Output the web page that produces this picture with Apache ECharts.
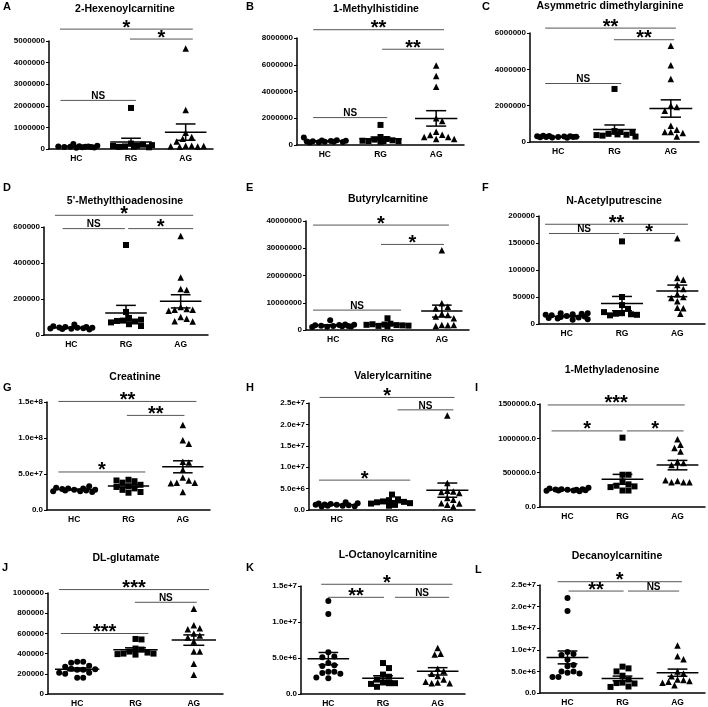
<!DOCTYPE html>
<html><head><meta charset="utf-8">
<script src="https://cdn.jsdelivr.net/npm/echarts@6/dist/echarts.min.js"></script>
<style>html,body{margin:0;padding:0;background:#fff}#c{width:708px;height:707px}</style>
</head><body><div id="c"></div>
<script>
// ---------- DATA ----------
const groupNames = ['HC', 'RG', 'AG'];
const panelLetters = ['A','B','C','D','E','F','G','H','I','J','K','L'];
const panelTitles = ['2-Hexenoylcarnitine','1-Methylhistidine','Asymmetric dimethylarginine',
  "5'-Methylthioadenosine",'Butyrylcarnitine','N-Acetylputrescine',
  'Creatinine','Valerylcarnitine','1-Methyladenosine',
  'DL-glutamate','L-Octanoylcarnitine','Decanoylcarnitine'];
const yMax  = [5e6, 8e6, 6e6, 6e5, 4e7, 2e5, 1.5e8, 2.5e7, 1.5e6, 1e6, 1.5e7, 2.5e7];
const yStep = [1e6, 2e6, 2e6, 2e5, 1e7, 5e4, 5e7, 5e6, 5e5, 2e5, 5e6, 5e6];
const yFormat = ['int','int','int','int','int','int','exp','exp','fixed','int','exp','exp'];

const hexenoylHC = [60000, 80000, 100000, 120000, 90000, 70000, 110000, 150000, 130000, 100000, 90000, 230000];
const hexenoylRG = [1900000, 250000, 150000, 120000, 200000, 100000, 80000, 140000, 180000, 110000];
const hexenoylAG = [4650000, 1800000, 750000, 550000, 480000, 350000, 150000, 150000, 120000, 130000, 140000, 100000];
const hexenoylSig = [[0.70, 3.13, 5.55e6, '*'], [1.98, 3.13, 5.09e6, '*'], [0.71, 2.09, 2.25e6, 'NS']];

const methylhistidineHC = [250000, 300000, 200000, 350000, 280000, 220000, 260000, 310000, 240000, 180000, 330000, 560000];
const methylhistidineRG = [1500000, 600000, 450000, 400000, 350000, 300000, 280000, 320000, 250000, 300000];
const methylhistidineAG = [5950000, 5150000, 4350000, 2000000, 1800000, 1000000, 770000, 750000, 600000, 600000, 450000, 450000];
const methylhistidineSig = [[0.79, 3.14, 8.62e6, '**'], [2.03, 3.14, 7.16e6, '**'], [0.79, 2.12, 2.05e6, 'NS']];

const admaHC = [280000, 300000, 250000, 320000, 270000, 290000, 260000, 310000, 240000, 330000, 280000, 350000];
const admaRG = [2920000, 600000, 550000, 450000, 400000, 350000, 500000, 380000, 420000, 300000];
const admaAG = [5300000, 4220000, 3470000, 2000000, 1930000, 1720000, 900000, 680000, 550000, 550000, 500000, 300000];
const admaSig = [[0.77, 3.09, 6.27e6, '**'], [1.99, 3.06, 5.63e6, '**'], [0.77, 2.12, 3.22e6, 'NS']];

const mtaHC = [35000, 40000, 45000, 38000, 42000, 30000, 48000, 36000, 40000, 33000, 45000, 58000];
const mtaRG = [500000, 128000, 95000, 80000, 75000, 78000, 60000, 50000, 85000, 70000];
const mtaAG = [550000, 320000, 255000, 250000, 155000, 145000, 140000, 140000, 135000, 100000, 90000, 76000, 75000];
const mtaSig = [[0.70, 3.23, 6.65e5, '*'], [0.84, 1.98, 5.91e5, 'NS'], [2.04, 3.23, 5.91e5, '*']];

const butyrylHC = [1500000, 1800000, 1200000, 2000000, 1600000, 1300000, 1700000, 1400000, 1900000, 1100000, 1500000, 3600000];
const butyrylRG = [4300000, 2300000, 2000000, 1800000, 1500000, 1700000, 2100000, 1600000, 1900000, 1400000];
const butyrylAG = [29300000, 9800000, 8500000, 8000000, 6000000, 5500000, 5000000, 4300000, 1800000, 1700000, 1500000, 1800000];
const butyrylSig = [[0.63, 3.13, 3.85e7, '*'], [1.88, 3.04, 3.14e7, '*'], [0.63, 2.25, 0.73e7, 'NS']];

const acetylputrescineHC = [15000, 18000, 20000, 12000, 10000, 16000, 14000, 17000, 8000, 13000, 19000, 11000, 20000, 9000];
const acetylputrescineRG = [153000, 50000, 35000, 28000, 20000, 19000, 18000, 16000, 17000, 22000];
const acetylputrescineAG = [159000, 85000, 82000, 72000, 65000, 55000, 50000, 48000, 42000, 30000, 29000, 19000];
const acetylputrescineSig = [[0.61, 3.19, 1.847e5, '**'], [0.68, 1.95, 1.676e5, 'NS'], [2.02, 2.96, 1.676e5, '*']];

const creatinineHC = [28e6, 26e6, 30e6, 27e6, 29e6, 25e6, 31e6, 26e6, 28e6, 27e6, 30e6, 33e6];
const creatinineRG = [42e6, 40e6, 38e6, 35e6, 33e6, 32e6, 30e6, 28e6, 25e6, 24e6, 41e6];
const creatinineAG = [118e6, 97e6, 92e6, 67e6, 66e6, 56e6, 45e6, 41e6, 38e6, 38e6, 37e6, 25e6];
const creatinineSig = [[0.71, 3.25, 1.508e8, '**'], [1.97, 3.03, 1.314e8, '**'], [0.71, 2.31, 5.28e7, '*']];

const valerylHC = [1.2e6, 1.0e6, 1.4e6, 1.1e6, 1.3e6, 0.9e6, 1.5e6, 1.2e6, 1.0e6, 1.6e6, 1.8e6, 0.8e6];
const valerylRG = [3.6e6, 2.5e6, 2.3e6, 2.0e6, 1.9e6, 1.8e6, 1.6e6, 1.5e6, 1.2e6, 1.0e6];
const valerylAG = [22.1e6, 6.3e6, 4.5e6, 4.3e6, 4.2e6, 4.0e6, 2.8e6, 2.4e6, 1.6e6, 1.2e6, 0.8e6, 1.5e6];
const valerylSig = [[0.69, 3.13, 2.63e7, '*'], [2.10, 3.11, 2.34e7, 'NS'], [0.68, 2.33, 6.98e6, '*']];

const methyladenosineHC = [250000, 240000, 260000, 230000, 255000, 245000, 270000, 235000, 250000, 260000, 240000, 280000];
const methyladenosineRG = [1010000, 470000, 470000, 370000, 330000, 310000, 300000, 290000, 240000, 240000];
const methyladenosineAG = [987000, 905000, 860000, 808000, 660000, 640000, 610000, 380000, 360000, 360000, 360000, 390000];
const methyladenosineSig = [[0.64, 3.13, 1.486e6, '***'], [0.71, 2.00, 1.108e6, '*'], [2.08, 3.11, 1.108e6, '*']];

const glutamateHC = [320000, 320000, 310000, 280000, 270000, 240000, 240000, 250000, 245000, 210000, 200000, 210000, 160000, 160000];
const glutamateRG = [545000, 540000, 450000, 440000, 420000, 410000, 400000, 400000, 395000, 390000];
const glutamateAG = [845000, 680000, 650000, 640000, 600000, 580000, 560000, 520000, 420000, 420000, 300000, 190000];
const glutamateSig = [[0.69, 3.26, 1.034e6, '***'], [1.99, 3.05, 9.08e5, 'NS'], [0.72, 2.22, 5.99e5, '***']];

const octanoylHC = [12.9e6, 11.1e6, 5.8e6, 5.2e6, 5.1e6, 4.3e6, 4.0e6, 3.9e6, 3.1e6, 3.1e6, 2.9e6, 2.8e6, 2.2e6, 2.3e6];
const octanoylRG = [4.3e6, 3.6e6, 2.7e6, 2.4e6, 2.0e6, 1.6e6, 1.5e6, 1.5e6, 1.4e6, 1.0e6];
const octanoylAG = [6.4e6, 5.6e6, 5.5e6, 3.5e6, 3.2e6, 2.8e6, 2.5e6, 2.0e6, 1.6e6, 1.5e6, 1.5e6, 1.7e6];
const octanoylSig = [[0.87, 3.27, 1.524e7, '*'], [0.99, 2.02, 1.343e7, '**'], [2.22, 3.21, 1.343e7, 'NS']];

const decanoylHC = [22e6, 19e6, 9.5e6, 9.0e6, 8.8e6, 7.7e6, 6.5e6, 6.2e6, 5.0e6, 5.0e6, 4.7e6, 4.5e6, 3.7e6, 3.7e6];
const decanoylRG = [6.1e6, 5.7e6, 5.0e6, 4.0e6, 3.1e6, 2.4e6, 2.3e6, 2.2e6, 1.5e6, 1.4e6];
const decanoylAG = [11.0e6, 8.5e6, 7.8e6, 5.0e6, 4.5e6, 3.9e6, 3.1e6, 3.0e6, 2.8e6, 2.6e6, 2.4e6, 1.8e6];
const decanoylSig = [[0.82, 3.08, 2.576e7, '*'], [1.02, 2.02, 2.36e7, '**'], [2.10, 3.03, 2.36e7, 'NS']];

const panelData = [
  [hexenoylHC, hexenoylRG, hexenoylAG], [methylhistidineHC, methylhistidineRG, methylhistidineAG],
  [admaHC, admaRG, admaAG], [mtaHC, mtaRG, mtaAG], [butyrylHC, butyrylRG, butyrylAG],
  [acetylputrescineHC, acetylputrescineRG, acetylputrescineAG], [creatinineHC, creatinineRG, creatinineAG],
  [valerylHC, valerylRG, valerylAG], [methyladenosineHC, methyladenosineRG, methyladenosineAG],
  [glutamateHC, glutamateRG, glutamateAG], [octanoylHC, octanoylRG, octanoylAG], [decanoylHC, decanoylRG, decanoylAG]];
const panelSig = [hexenoylSig, methylhistidineSig, admaSig, mtaSig, butyrylSig, acetylputrescineSig,
  creatinineSig, valerylSig, methyladenosineSig, glutamateSig, octanoylSig, decanoylSig];

// ---------- LAYOUT (pixels: left, top, right, bottom of plot area) ----------
const plotBox = [
  [49, 41, 213, 149], [297, 38, 464, 145], [530, 33, 699, 142],
  [44, 227, 208, 335], [306, 221, 469, 330], [539, 216, 705, 324],
  [47, 402, 210, 510], [309, 403, 475, 510], [540, 404, 705, 507],
  [48, 593, 223, 694], [301, 586, 465, 694], [540, 585, 705, 693]];
const titlePos = [[125, 9], [376, 9], [610, 6], [125, 201], [388, 199], [614, 201],
  [135, 377], [393, 376], [612, 370], [126, 558], [388, 555], [617, 556]];
const letterPos = [[6, 7], [249, 7], [485, 7], [6, 188], [249, 188], [485, 188],
  [6, 388], [249, 388], [478, 388], [5, 568], [249, 568], [478, 570]];

const FONT = "'Liberation Sans', Arial, Helvetica, sans-serif";
const symbols = ['circle', 'rect', 'triangle'];

function fmt(kind) {
  return function (v) {
    if (kind === 'exp') return v === 0 ? '0.0' : v.toExponential(1);
    if (kind === 'fixed') return v.toFixed(1);
    return String(Math.round(v));
  };
}

// deterministic beeswarm spreading (pixel space)
function swarm(vals, pxX, pxY) {
  const d = 6, maxOff = 21, placed = [], offs = [];
  const cands = [0];
  for (let k = 1; k * d / 2 <= maxOff; k++) cands.push(k * d / 2, -k * d / 2);
  vals.forEach(v => {
    const y = v * pxY;
    let chosen = null, fb = 0, fbScore = -1;
    for (const c of cands) {
      let m = Infinity;
      for (const q of placed) { const dd = Math.hypot(q[0] - c, q[1] - y); if (dd < m) m = dd; }
      if (m >= d) { chosen = c; break; }
      if (m > fbScore) { fbScore = m; fb = c; }
    }
    if (chosen === null) chosen = fb;
    placed.push([chosen, y]);
    offs.push(chosen / pxX);
  });
  return offs;
}

function meanSem(a) {
  const n = a.length, m = a.reduce((s, v) => s + v, 0) / n;
  const sd = Math.sqrt(a.reduce((s, v) => s + (v - m) * (v - m), 0) / (n - 1));
  return [m, sd / Math.sqrt(n)];
}

const grid = [], xAxis = [], yAxis = [], series = [], graphic = [];

panelData.forEach((groups, i) => {
  const b = plotBox[i];
  const w = b[2] - b[0], h = b[3] - b[1];
  const pxX = w / 3, pxY = h / yMax[i];
  grid.push({ left: b[0], top: b[1], width: w, height: h, containLabel: false, outerBoundsMode: 'none' });
  xAxis.push({
    gridIndex: i, type: 'value', min: 0.5, max: 3.5, position: 'bottom',
    axisLine: { show: true, onZero: false, lineStyle: { color: '#000', width: 1.5 } },
    axisTick: { show: false }, axisLabel: { show: false }, splitLine: { show: false }
  });
  xAxis.push({
    gridIndex: i, type: 'category', data: groupNames, position: 'bottom',
    axisLine: { show: false }, axisTick: { show: false }, splitLine: { show: false },
    axisLabel: { color: '#000', fontWeight: 'bold', fontSize: 8.5, fontFamily: FONT, margin: 5 }
  });
  yAxis.push({
    gridIndex: i, type: 'value', min: 0, max: yMax[i], interval: yStep[i],
    axisLine: { show: true, lineStyle: { color: '#000', width: 1.5 } },
    axisTick: { show: true, length: 3, lineStyle: { color: '#000', width: 1 } },
    splitLine: { show: false },
    axisLabel: { color: '#000', fontWeight: 'bold', fontSize: 8, fontFamily: FONT, margin: 4, formatter: fmt(yFormat[i]) }
  });
  const xi = 2 * i;
  groups.forEach((vals, g) => {
    const offs = swarm(vals, pxX, pxY);
    series.push({
      type: 'scatter', xAxisIndex: xi, yAxisIndex: i, symbol: symbols[g],
      symbolSize: g === 2 ? 6.5 : 6, itemStyle: { color: '#000', opacity: 1 }, silent: true,
      data: vals.map((v, k) => [g + 1 + offs[k], v])
    });
  });
  const stats = groups.map((vals, g) => { const s = meanSem(vals); return [g + 1, s[0], s[1]]; });
  series.push({
    type: 'custom', xAxisIndex: xi, yAxisIndex: i, clip: false, silent: true, data: stats,
    renderItem: function (params, api) {
      const gx = api.value(0), m = api.value(1), s = api.value(2);
      const a1 = api.coord([gx - 0.38, m]), a2 = api.coord([gx + 0.38, m]);
      const t1 = api.coord([gx - 0.18, m + s]), t2 = api.coord([gx + 0.18, m + s]);
      const b1 = api.coord([gx - 0.18, m - s]), b2 = api.coord([gx + 0.18, m - s]);
      const st = { stroke: '#000', lineWidth: 1.5 };
      return { type: 'group', children: [
        { type: 'line', shape: { x1: a1[0], y1: a1[1], x2: a2[0], y2: a2[1] }, style: st },
        { type: 'line', shape: { x1: t1[0], y1: t1[1], x2: t2[0], y2: t2[1] }, style: st },
        { type: 'line', shape: { x1: b1[0], y1: b1[1], x2: b2[0], y2: b2[1] }, style: st },
        { type: 'line', shape: { x1: (t1[0] + t2[0]) / 2, y1: t1[1], x2: (b1[0] + b2[0]) / 2, y2: b1[1] }, style: st }
      ]};
    }
  });
  const sig = panelSig[i];
  series.push({
    type: 'custom', xAxisIndex: xi, yAxisIndex: i, clip: false, silent: true,
    data: sig.map(r => [r[0], r[1], r[2]]),
    renderItem: function (params, api) {
      const r = sig[params.dataIndex];
      const p1 = api.coord([api.value(0), api.value(2)]), p2 = api.coord([api.value(1), api.value(2)]);
      const ns = r[3] === 'NS';
      return { type: 'group', children: [
        { type: 'line', shape: { x1: p1[0], y1: p1[1], x2: p2[0], y2: p2[1] }, style: { stroke: '#555', lineWidth: 1 } },
        { type: 'text', x: (p1[0] + p2[0]) / 2, y: ns ? p1[1] + 1 : p1[1] - 1,
          style: { text: r[3], fill: '#000', align: 'center', verticalAlign: ns ? 'bottom' : 'middle',
            font: ns ? 'bold 10px ' + FONT : 'bold 20px ' + FONT } }
      ]};
    }
  });
  graphic.push({ type: 'text', x: titlePos[i][0], y: titlePos[i][1], silent: true,
    style: { text: panelTitles[i], fill: '#000', align: 'center', verticalAlign: 'middle', font: 'bold 10.5px ' + FONT } });
  graphic.push({ type: 'text', x: letterPos[i][0] - 3, y: letterPos[i][1], silent: true,
    style: { text: panelLetters[i], fill: '#000', align: 'left', verticalAlign: 'middle', font: 'bold 11px ' + FONT } });
});

const chart = echarts.init(document.getElementById('c'), null, { renderer: 'canvas' });
chart.setOption({ animation: false, backgroundColor: '#fff', grid, xAxis, yAxis, series, graphic });
</script></body></html>
